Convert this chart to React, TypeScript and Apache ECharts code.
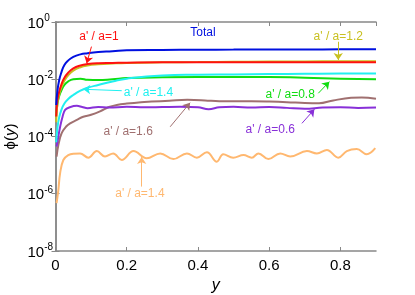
import React, { useEffect, useRef } from "react";
import * as echarts from "echarts";

// shared x grid for the smooth curves
const xs = [0.002, 0.005, 0.01, 0.017, 0.025, 0.035, 0.05, 0.07, 0.09, 0.12, 0.16, 0.2, 0.3, 0.4, 0.5, 0.6, 0.7, 0.8, 0.9];
// log10 of phi(y)
const totalLog = [-2.9, -2.45, -2.05, -1.74, -1.5, -1.35, -1.22, -1.13, -1.09, -1.05, -1.02, -0.985, -0.975, -0.97, -0.965, -0.96, -0.96, -0.955, -0.955];
const r10Log = [-3.3, -2.75, -2.45, -2.17, -1.95, -1.78, -1.62, -1.52, -1.47, -1.44, -1.43, -1.42, -1.41, -1.41, -1.41, -1.41, -1.41, -1.41, -1.41];
const r12Log = [-3.5, -2.9, -2.55, -2.27, -2.05, -1.87, -1.7, -1.58, -1.52, -1.48, -1.45, -1.43, -1.41, -1.4, -1.39, -1.38, -1.38, -1.37, -1.37];
const r08Log = [-3.3, -2.9, -2.6, -2.38, -2.2, -2.08, -2.0, -1.98, -2.02, -2.03, -2.0, -1.96, -1.93, -1.92, -1.92, -1.92, -1.95, -1.98, -2.0];
const r14Log = [-4.2, -3.75, -3.35, -3.05, -2.85, -2.7, -2.55, -2.4, -2.3, -2.2, -2.08, -1.98, -1.87, -1.84, -1.83, -1.82, -1.81, -1.8, -1.8];

const r06X = [0.003, 0.008, 0.013, 0.02, 0.027, 0.04, 0.06, 0.075, 0.09, 0.12, 0.15, 0.2, 0.25, 0.3, 0.35, 0.4, 0.43, 0.46, 0.5, 0.55, 0.6, 0.65, 0.7, 0.75, 0.8, 0.85, 0.9];
const r06Log = [-4.35, -4.0, -3.66, -3.3, -3.07, -2.98, -2.93, -2.97, -3.01, -2.97, -2.99, -2.96, -2.98, -2.97, -2.96, -2.98, -3.05, -2.98, -2.96, -2.99, -2.97, -3.0, -3.03, -2.99, -2.98, -3.0, -2.99];

const r16X = [0.003, 0.008, 0.017, 0.03, 0.041, 0.06, 0.078, 0.1, 0.125, 0.15, 0.172, 0.2, 0.24, 0.27, 0.32, 0.37, 0.42, 0.46, 0.5, 0.55, 0.6, 0.65, 0.7, 0.74, 0.78, 0.83, 0.86, 0.9];
const r16Log = [-4.7, -4.3, -3.89, -3.65, -3.54, -3.42, -3.31, -3.24, -3.12, -2.97, -2.9, -2.85, -2.8, -2.78, -2.75, -2.72, -2.74, -2.77, -2.77, -2.77, -2.78, -2.8, -2.83, -2.84, -2.74, -2.65, -2.64, -2.68];

const orX = [0.003, 0.008, 0.013, 0.022, 0.036, 0.05, 0.069, 0.092, 0.116, 0.139, 0.162, 0.186, 0.219, 0.256, 0.294, 0.331, 0.369, 0.397, 0.425, 0.453, 0.471, 0.499, 0.528, 0.551, 0.57, 0.598, 0.631, 0.659, 0.706, 0.734, 0.762, 0.794, 0.818, 0.846, 0.874, 0.898];
const orLog = [-6.33, -5.87, -5.28, -4.82, -4.65, -4.6, -4.59, -4.74, -4.51, -4.7, -4.59, -4.82, -4.51, -4.76, -4.59, -4.79, -4.59, -4.74, -4.55, -4.88, -4.62, -4.74, -4.65, -4.74, -4.59, -4.79, -4.59, -4.7, -4.51, -4.59, -4.47, -4.74, -4.51, -4.44, -4.62, -4.41];

// annotations
const labelTexts = ["Total", "a' / a=1", "a' / a=1.2", "a' / a=1.4", "a' / a=0.8", "a' / a=0.6", "a' / a=1.6", "a' / a=1.4"];
const labelX = [0.414, 0.122, 0.794, 0.261, 0.659, 0.603, 0.204, 0.237];
const labelLog = [-0.35, -0.49, -0.49, -2.43, -2.515, -3.75, -3.81, -5.97];
const arrowFrom = [null, [0.101, -0.86], [0.794, -0.69], [0.186, -2.4], [0.738, -2.49], [0.692, -3.54], [0.322, -3.66], [0.242, -5.75]];
const arrowTo = [null, [0.0876, -1.44], [0.794, -1.33], [0.078, -2.35], [0.769, -2.085], [0.727, -3.05], [0.378, -2.82], [0.242, -4.72]];

const colors = ["#0010e0", "#ff1010", "#c8c020", "#20f0f0", "#10dd10", "#8830d8", "#a07070", "#ffb870"];

const FONT = "Liberation Sans, Arial, sans-serif";
const p10 = (v: number) => Math.pow(10, v);

export default function App() {
  const ref = useRef<HTMLDivElement>(null);
  useEffect(() => {
    if (!ref.current) return;
    const chart = echarts.init(ref.current, null, { renderer: "svg" });

    const mk = (idx: number) => {
      const from = arrowFrom[idx];
      const to = arrowTo[idx];
      const out: any = {
        markPoint: {
          symbol: "circle",
          symbolSize: 0,
          silent: true,
          data: [{ coord: [labelX[idx], p10(labelLog[idx])], value: labelTexts[idx] }],
          label: {
            show: true,
            position: "inside",
            formatter: labelTexts[idx],
            color: colors[idx],
            fontSize: 12,
            fontFamily: FONT,
          },
        },
      };
      if (from && to) {
        out.markLine = {
          silent: true,
          symbol: ["none", "arrow"],
          symbolSize: 7,
          label: { show: false },
          lineStyle: { color: colors[idx], width: 1, type: "solid" },
          data: [[{ coord: [from[0], p10(from[1])] }, { coord: [to[0], p10(to[1])] }]],
        };
      }
      return out;
    };

    const line = (name: string, x: number[], lg: number[], ci: number, smooth: boolean | number) => ({
      name,
      type: "line",
      data: x.map((v, i) => [v, p10(lg[i])]),
      showSymbol: false,
      smooth,
      lineStyle: { color: colors[ci], width: 2 },
      itemStyle: { color: colors[ci] },
      ...mk(ci),
    });

    const axisLineStyle = { color: "#888", width: 1.5 };

    chart.setOption({
      animation: false,
      grid: { left: 55.5, right: 39, top: 22, bottom: 44, outerBoundsMode: "none", containLabel: false },
      xAxis: [
        {
          type: "value",
          min: 0,
          max: 0.9,
          interval: 0.2,
          name: "y",
          nameLocation: "middle",
          nameGap: 23,
          nameTextStyle: { fontStyle: "italic", fontSize: 16, color: "#000", fontFamily: FONT },
          axisLine: { lineStyle: axisLineStyle },
          axisTick: { inside: true, length: 4, lineStyle: { color: "#888" } },
          axisLabel: { fontSize: 15, color: "#000", fontFamily: FONT, margin: 6, showMaxLabel: false },
          splitLine: { show: false },
        },
        {
          type: "value",
          min: 0,
          max: 0.9,
          interval: 0.2,
          position: "top",
          axisLine: { lineStyle: axisLineStyle },
          axisTick: { inside: true, length: 4, lineStyle: { color: "#888" } },
          axisLabel: { show: false },
          splitLine: { show: false },
        },
      ],
      yAxis: [
        {
          type: "log",
          logBase: 10,
          min: 1e-8,
          max: 1,
          interval: 2,
          name: "{n|ϕ(}{i|y}{n|)}",
          nameLocation: "middle",
          nameGap: 37,
          nameRotate: 90,
          nameTextStyle: {
            rich: {
              n: { fontSize: 15, color: "#000", fontFamily: FONT },
              i: { fontSize: 15, color: "#000", fontFamily: FONT, fontStyle: "italic" },
            },
          },
          axisLine: { lineStyle: axisLineStyle },
          axisTick: { inside: true, length: 4, lineStyle: { color: "#888" } },
          axisLabel: {
            align: "left",
            margin: 28,
            formatter: (v: number) => {
              const e = Math.round(Math.log10(v));
              if (e % 2 !== 0) return "";
              return "{b|10}{s|" + (e === 0 ? "0" : "-" + Math.abs(e)) + "}";
            },
            rich: {
              b: { fontSize: 15, color: "#000", fontFamily: FONT },
              s: { fontSize: 10, color: "#000", fontFamily: FONT, padding: [0, 0, 9, 0] },
            },
          },
          splitLine: { show: false },
        },
        {
          type: "log",
          logBase: 10,
          min: 1e-8,
          max: 1,
          interval: 2,
          position: "right",
          axisLine: { lineStyle: axisLineStyle },
          axisTick: { inside: true, length: 4, lineStyle: { color: "#888" } },
          axisLabel: { show: false },
          splitLine: { show: false },
        },
      ],
      series: [
        line("orange", orX, orLog, 7, 0.4),
        line("a/a=1.6", r16X, r16Log, 6, 0.4),
        line("a/a=0.6", r06X, r06Log, 5, 0.4),
        line("a/a=0.8", xs, r08Log, 4, true),
        line("a/a=1.4", xs, r14Log, 3, true),
        line("a/a=1.2", xs, r12Log, 2, true),
        line("a/a=1", xs, r10Log, 1, true),
        line("Total", xs, totalLog, 0, true),
      ],
    });
    return () => chart.dispose();
  }, []);
  return <div ref={ref} style={{ position: "fixed", left: 0, top: 0, width: 415, height: 295 }} />;
}
